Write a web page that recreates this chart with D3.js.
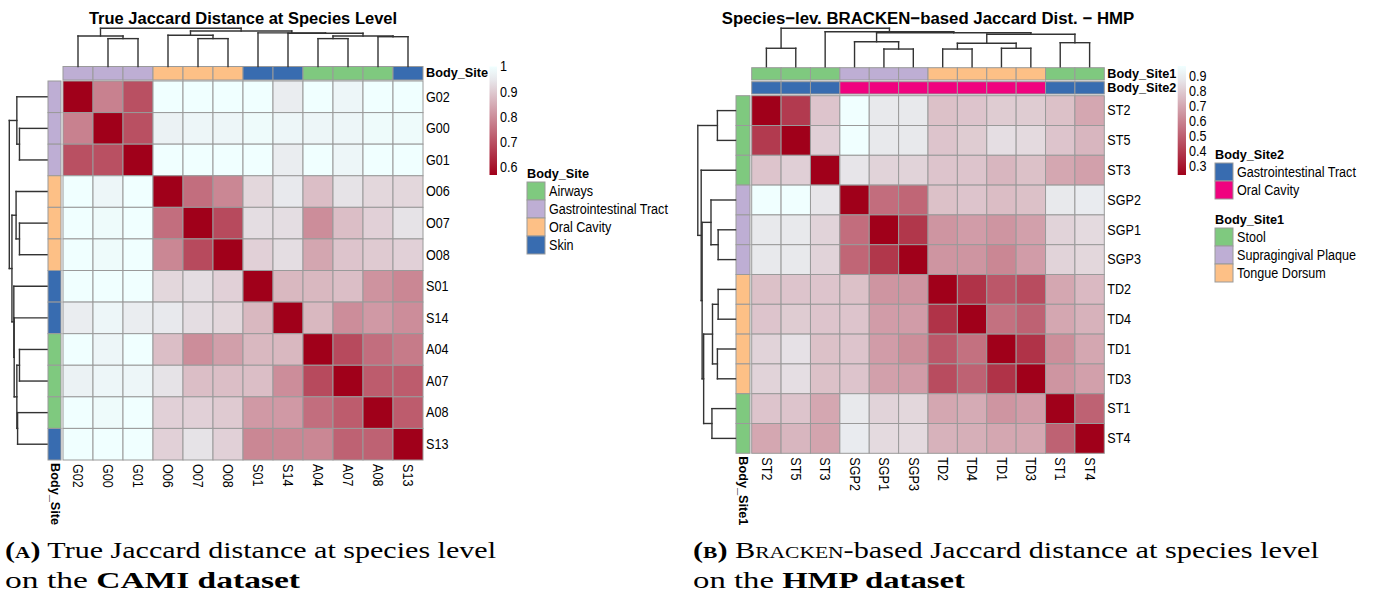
<!DOCTYPE html>
<html>
<head>
<meta charset="utf-8">
<script src="https://cdn.jsdelivr.net/npm/d3@7"></script>
<style>
  body { margin: 0; background: #fff; }
  svg { display: block; font-family: "Liberation Sans", Arial, sans-serif; }
  .cap { font-family: "Liberation Serif", serif; }
</style>
</head>
<body>
<svg id="fig" width="1375" height="597"></svg>
<script>
// ---------- panel A : true Jaccard distance, CAMI ----------
var samplesA = ["G02", "G00", "G01", "O06", "O07", "O08", "S01", "S14", "A04", "A07", "A08", "S13"];
var bodySiteA = ["Gastrointestinal Tract", "Gastrointestinal Tract", "Gastrointestinal Tract",
  "Oral Cavity", "Oral Cavity", "Oral Cavity", "Skin", "Skin", "Airways", "Airways", "Airways", "Skin"];
var siteLevelsA = ["Airways", "Gastrointestinal Tract", "Oral Cavity", "Skin"];
var distA = [
  [0.57, 0.78, 0.70, 1.00, 1.00, 1.00, 1.00, 0.96, 1.00, 0.98, 1.00, 1.00],
  [0.78, 0.57, 0.70, 0.97, 0.98, 0.98, 0.99, 0.98, 0.98, 0.98, 0.99, 0.99],
  [0.70, 0.70, 0.57, 1.00, 1.00, 1.00, 1.00, 0.96, 1.00, 0.98, 1.00, 1.00],
  [1.00, 0.98, 1.00, 0.57, 0.75, 0.79, 0.92, 0.95, 0.88, 0.94, 0.92, 0.92],
  [1.00, 0.99, 1.00, 0.75, 0.57, 0.69, 0.93, 0.93, 0.80, 0.88, 0.91, 0.94],
  [1.00, 0.99, 1.00, 0.79, 0.69, 0.57, 0.91, 0.93, 0.84, 0.89, 0.90, 0.91],
  [1.00, 1.00, 1.00, 0.92, 0.93, 0.91, 0.57, 0.87, 0.87, 0.88, 0.81, 0.79],
  [0.96, 0.98, 0.96, 0.95, 0.93, 0.92, 0.87, 0.57, 0.87, 0.80, 0.82, 0.80],
  [1.00, 0.98, 1.00, 0.88, 0.80, 0.83, 0.87, 0.87, 0.57, 0.69, 0.75, 0.77],
  [0.97, 0.98, 0.98, 0.94, 0.88, 0.88, 0.88, 0.80, 0.69, 0.57, 0.72, 0.72],
  [1.00, 0.99, 1.00, 0.91, 0.91, 0.90, 0.82, 0.82, 0.75, 0.72, 0.57, 0.72],
  [1.00, 1.00, 1.00, 0.91, 0.94, 0.91, 0.79, 0.79, 0.79, 0.73, 0.73, 0.57]
];
// [merge height, left, right]
var treeA = [1.00,
  [0.80, "G02", [0.73, "G00", "G01"]],
  [0.93,
    [0.82, "O06", [0.73, "O07", "O08"]],
    [0.88, "S01", [0.87, "S14", [0.80, [0.73, "A04", "A07"], [0.78, "A08", "S13"]]]]]];
var ticksA = [0.6, 0.7, 0.8, 0.9, 1];

// ---------- panel B : BRACKEN-based Jaccard distance, HMP ----------
var samplesB = ["ST2", "ST5", "ST3", "SGP2", "SGP1", "SGP3", "TD2", "TD4", "TD1", "TD3", "ST1", "ST4"];
var bodySite1B = ["Stool", "Stool", "Stool", "Supragingival Plaque", "Supragingival Plaque", "Supragingival Plaque",
  "Tongue Dorsum", "Tongue Dorsum", "Tongue Dorsum", "Tongue Dorsum", "Stool", "Stool"];
var bodySite2B = ["Gastrointestinal Tract", "Gastrointestinal Tract", "Gastrointestinal Tract",
  "Oral Cavity", "Oral Cavity", "Oral Cavity", "Oral Cavity", "Oral Cavity", "Oral Cavity", "Oral Cavity",
  "Gastrointestinal Tract", "Gastrointestinal Tract"];
var site1LevelsB = ["Stool", "Supragingival Plaque", "Tongue Dorsum"];
var site2LevelsB = ["Gastrointestinal Tract", "Oral Cavity"];
var distB = [
  [0.24, 0.40, 0.78, 0.965, 0.88, 0.88, 0.77, 0.78, 0.80, 0.80, 0.77, 0.70],
  [0.40, 0.24, 0.81, 0.965, 0.88, 0.88, 0.78, 0.80, 0.85, 0.84, 0.78, 0.74],
  [0.78, 0.81, 0.24, 0.87, 0.82, 0.82, 0.78, 0.78, 0.74, 0.77, 0.70, 0.68],
  [0.965, 0.965, 0.87, 0.24, 0.54, 0.52, 0.77, 0.78, 0.76, 0.77, 0.88, 0.89],
  [0.88, 0.88, 0.82, 0.54, 0.24, 0.39, 0.65, 0.67, 0.65, 0.68, 0.82, 0.84],
  [0.88, 0.88, 0.82, 0.52, 0.39, 0.24, 0.65, 0.65, 0.61, 0.67, 0.82, 0.83],
  [0.77, 0.78, 0.78, 0.77, 0.65, 0.65, 0.24, 0.38, 0.48, 0.45, 0.70, 0.75],
  [0.78, 0.80, 0.78, 0.78, 0.67, 0.67, 0.38, 0.24, 0.55, 0.51, 0.70, 0.73],
  [0.82, 0.86, 0.77, 0.78, 0.67, 0.63, 0.48, 0.55, 0.24, 0.38, 0.63, 0.70],
  [0.82, 0.85, 0.77, 0.78, 0.68, 0.67, 0.45, 0.51, 0.38, 0.24, 0.65, 0.68],
  [0.78, 0.78, 0.70, 0.88, 0.82, 0.83, 0.70, 0.71, 0.65, 0.67, 0.24, 0.51],
  [0.70, 0.74, 0.69, 0.89, 0.84, 0.84, 0.73, 0.72, 0.70, 0.70, 0.51, 0.24]
];
var treeB = [1.00,
  [0.48, "ST2", "ST5"],
  [0.91, "ST3",
    [0.885,
      [0.65, "SGP2", [0.46, "SGP1", "SGP3"]],
      [0.845, [0.61, [0.46, "TD2", "TD4"], [0.48, "TD1", "TD3"]], [0.625, "ST1", "ST4"]]]]];
var ticksB = [0.3, 0.4, 0.5, 0.6, 0.7, 0.8, 0.9];

// ---------- styles ----------
var rampColors = ["#A0001A", "#E8E8EC", "#F0FFFF"];
var paletteA = { "Airways": "#7FC97F", "Gastrointestinal Tract": "#BEAED4", "Oral Cavity": "#FDC086", "Skin": "#386CB0" };
var paletteB1 = { "Stool": "#7FC97F", "Supragingival Plaque": "#BEAED4", "Tongue Dorsum": "#FDC086" };
var paletteB2 = { "Gastrointestinal Tract": "#386CB0", "Oral Cavity": "#F0027F" };
var GRID = "#9a9a9a", TREE = "#333", SY = 1.15;

var svg = d3.select("#fig");
var defs = svg.append("defs");

function txt(g, x, y, s, o) {
  o = o || {};
  var tr = "translate(" + x + "," + y + ")" + (o.rot ? " rotate(" + o.rot + ")" : "") + (o.bold ? "" : " scale(1," + SY + ")");
  return g.append("text")
    .attr("transform", tr)
    .attr("font-size", o.size || 12.6)
    .attr("font-weight", o.bold ? "bold" : null)
    .attr("dominant-baseline", "central")
    .attr("text-anchor", o.anchor || "start")
    .attr("fill", "#000")
    .text(s);
}

function layoutTree(node, pos) {
  if (typeof node === "string") return { p: pos(node), h: 0 };
  var l = layoutTree(node[1], pos), r = layoutTree(node[2], pos);
  return { p: (l.p + r.p) / 2, h: node[0], l: l, r: r };
}
function segments(n, out) {
  if (!n.l) return out;
  out.push([n.l.p, n.l.h, n.l.p, n.h], [n.r.p, n.r.h, n.r.p, n.h], [n.l.p, n.h, n.r.p, n.h]);
  segments(n.l, out); segments(n.r, out);
  return out;
}

function drawPanel(c) {
  var g = svg.append("g");
  var x = d3.scaleBand().domain(c.samples).range(c.gridX);
  var y = d3.scaleBand().domain(c.samples).range(c.gridY);
  var all = d3.merge(c.dist);
  var ext = d3.extent(all);
  var color = d3.scaleLinear()
    .domain([ext[0], ext[0] + 0.88 * (ext[1] - ext[0]), ext[1]])
    .range(rampColors);

  // heatmap cells
  var cells = [];
  c.dist.forEach(function (row, i) {
    row.forEach(function (v, j) { cells.push({ r: c.samples[i], c: c.samples[j], v: v }); });
  });
  g.append("g").selectAll("rect").data(cells).join("rect")
    .attr("x", function (d) { return x(d.c); })
    .attr("y", function (d) { return y(d.r); })
    .attr("width", x.bandwidth())
    .attr("height", y.bandwidth())
    .attr("fill", function (d) { return color(d.v); })
    .attr("stroke", GRID).attr("stroke-width", 1);

  // column annotations
  c.colAnnot.forEach(function (a) {
    g.append("g").selectAll("rect").data(a.values).join("rect")
      .attr("x", function (d, i) { return x(c.samples[i]); })
      .attr("y", a.y[0]).attr("width", x.bandwidth()).attr("height", a.y[1] - a.y[0])
      .attr("fill", function (d) { return a.palette[d]; })
      .attr("stroke", GRID).attr("stroke-width", 1);
    txt(g, c.gridX[1] + 3, (a.y[0] + a.y[1]) / 2, a.name, { bold: true, size: 12.7 });
  });
  // row annotation
  var ra = c.rowAnnot;
  g.append("g").selectAll("rect").data(ra.values).join("rect")
    .attr("x", ra.x[0]).attr("y", function (d, i) { return y(c.samples[i]); })
    .attr("width", ra.x[1] - ra.x[0]).attr("height", y.bandwidth())
    .attr("fill", function (d) { return ra.palette[d]; })
    .attr("stroke", GRID).attr("stroke-width", 1);
  txt(g, (ra.x[0] + ra.x[1]) / 2, c.gridY[1] + 3, ra.name, { bold: true, size: 12.7, rot: 90 });

  // labels
  c.samples.forEach(function (s) {
    txt(g, c.gridX[1] + 3, y(s) + y.bandwidth() / 2, s);
    txt(g, x(s) + x.bandwidth() / 2, c.gridY[1] + 4, s, { rot: 90 });
  });

  // dendrograms
  var hc = d3.scaleLinear().domain([0, 1]).range(c.colTree);
  var segC = segments(layoutTree(c.tree, function (s) { return x(s) + x.bandwidth() / 2; }), []);
  g.append("g").selectAll("line").data(segC).join("line")
    .attr("x1", function (d) { return d[0]; }).attr("y1", function (d) { return hc(d[1]); })
    .attr("x2", function (d) { return d[2]; }).attr("y2", function (d) { return hc(d[3]); })
    .attr("stroke", TREE).attr("stroke-width", 1.4).attr("stroke-linecap", "square");
  var hr = d3.scaleLinear().domain([0, 1]).range(c.rowTree);
  var segR = segments(layoutTree(c.tree, function (s) { return y(s) + y.bandwidth() / 2; }), []);
  g.append("g").selectAll("line").data(segR).join("line")
    .attr("y1", function (d) { return d[0]; }).attr("x1", function (d) { return hr(d[1]); })
    .attr("y2", function (d) { return d[2]; }).attr("x2", function (d) { return hr(d[3]); })
    .attr("stroke", TREE).attr("stroke-width", 1.4).attr("stroke-linecap", "square");

  // title
  g.append("text").attr("x", (c.gridX[0] + c.gridX[1]) / 2).attr("y", 18)
    .attr("text-anchor", "middle").attr("dominant-baseline", "central")
    .attr("font-weight", "bold").attr("font-size", c.titleSize).text(c.title);

  // colour bar
  var ly = d3.scaleLinear().domain(ext).range([c.bar.y1, c.bar.y0]);
  var gid = "grad" + c.id;
  var grad = defs.append("linearGradient").attr("id", gid)
    .attr("x1", 0).attr("y1", 1).attr("x2", 0).attr("y2", 0);
  grad.selectAll("stop").data(color.domain()).join("stop")
    .attr("offset", function (d) { return (d - ext[0]) / (ext[1] - ext[0]); })
    .attr("stop-color", function (d) { return color(d); });
  g.append("rect").attr("x", c.bar.x).attr("y", c.bar.y0).attr("width", c.bar.w)
    .attr("height", c.bar.y1 - c.bar.y0).attr("fill", "url(#" + gid + ")");
  c.ticks.forEach(function (t) { txt(g, c.bar.x + c.bar.w + 3, ly(t), String(t)); });

  // categorical legends
  c.legends.forEach(function (L) {
    txt(g, L.x, L.y, L.name, { bold: true, size: 12.7 });
    L.levels.forEach(function (lv, i) {
      g.append("rect").attr("x", L.x).attr("y", L.y + 8 + i * 18).attr("width", 18).attr("height", 18)
        .attr("fill", L.palette[lv]).attr("stroke", GRID);
      txt(g, L.x + 22, L.y + 17 + i * 18, lv);
    });
  });
}

drawPanel({
  id: "A", title: "True Jaccard Distance at Species Level", titleSize: 16.5,
  samples: samplesA, dist: distA, tree: treeA, ticks: ticksA,
  gridX: [63, 423], gridY: [81, 460],
  colAnnot: [{ name: "Body_Site", values: bodySiteA, palette: paletteA, y: [66.5, 80] }],
  rowAnnot: { name: "Body_Site", values: bodySiteA, palette: paletteA, x: [48, 61] },
  colTree: [66.5, 28.3], rowTree: [47, 9.3],
  bar: { x: 489.5, w: 7.5, y0: 66.5, y1: 175 },
  legends: [{ name: "Body_Site", levels: siteLevelsA, palette: paletteA, x: 527, y: 174 }]
});

drawPanel({
  id: "B", title: "Species\u2212lev. BRACKEN\u2212based Jaccard Dist. \u2212 HMP", titleSize: 16.8,
  samples: samplesB, dist: distB, tree: treeB, ticks: ticksB,
  gridX: [751.7, 1104.3], gridY: [95.7, 453.3],
  colAnnot: [
    { name: "Body_Site1", values: bodySite1B, palette: paletteB1, y: [67.7, 80] },
    { name: "Body_Site2", values: bodySite2B, palette: paletteB2, y: [81.7, 94] }],
  rowAnnot: { name: "Body_Site1", values: bodySite1B, palette: paletteB1, x: [736, 750] },
  colTree: [66.7, 28.3], rowTree: [735.5, 697.8],
  bar: { x: 1177.7, w: 8.3, y0: 66, y1: 175 },
  legends: [
    { name: "Body_Site2", levels: site2LevelsB, palette: paletteB2, x: 1215, y: 155 },
    { name: "Body_Site1", levels: site1LevelsB, palette: paletteB1, x: 1215, y: 220 }]
});

// ---------- captions ----------
var cap = svg.append("g").attr("class", "cap").attr("font-size", 24);
function capLine(x, y, len, parts) {
  var t = cap.append("text").attr("x", x).attr("y", y)
    .attr("textLength", len).attr("lengthAdjust", "spacingAndGlyphs");
  parts.forEach(function (p) {
    t.append("tspan").attr("font-weight", p.b ? "bold" : null)
      .attr("font-variant", p.sc ? "small-caps" : null).text(p.t);
  });
}
capLine(5, 558, 491, [{ t: "(a)", b: 1, sc: 1 }, { t: " True Jaccard distance at species level" }]);
capLine(5, 588, 295, [{ t: "on the " }, { t: "CAMI dataset", b: 1 }]);
capLine(693, 558, 626, [{ t: "(b)", b: 1, sc: 1 }, { t: " " }, { t: "Bracken", sc: 1 }, { t: "-based Jaccard distance at species level" }]);
capLine(693, 588, 272, [{ t: "on the " }, { t: "HMP dataset", b: 1 }]);
</script>
</body>
</html>
